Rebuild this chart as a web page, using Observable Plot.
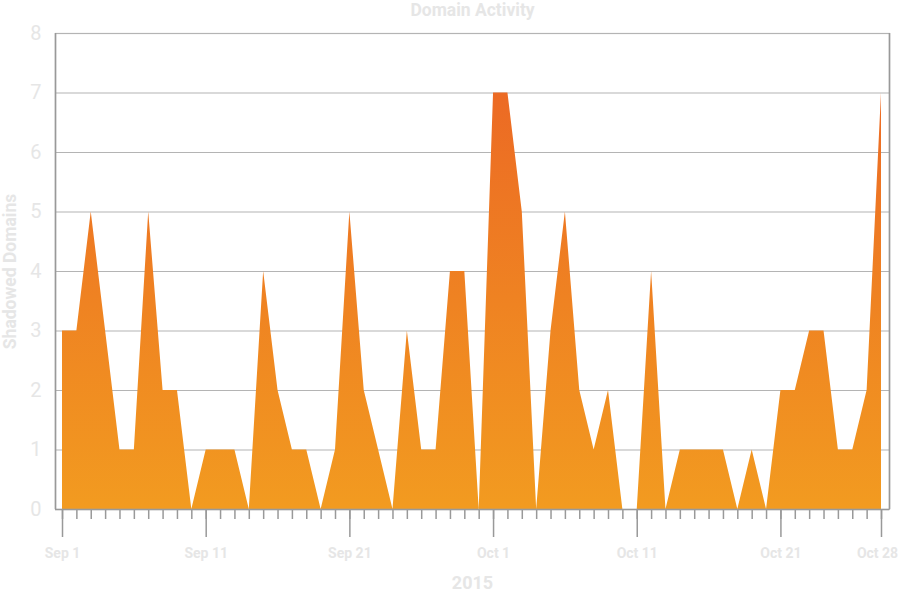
<!DOCTYPE html>
<html><head><meta charset="utf-8">
<script src="https://cdn.jsdelivr.net/npm/d3@7"></script>
<script src="https://cdn.jsdelivr.net/npm/@observablehq/plot@0.6"></script>
<style>
body{margin:0;background:#fff;font-family:Roboto,sans-serif;}
#chart svg{display:block;}
</style></head><body><div id="chart"></div>
<script>
// Daily counts of shadowed domains, Sep 1 – Oct 28, 2015
const firstDay = "2015-09-01";
const lastDay = "2015-10-28";
const counts = [
  3,3,5,3,1,1,5,2,2,0, 1,1,1,0,4,2,1,1,0,1, 5,2,1,0,3,1,1,4,4,0,
  7,7,5,0,3,5,2,1,2,0, 0,4,0,1,1,1,1,0,1,0, 2,2,3,3,1,1,2,7
];
const majorTickDates = ["2015-09-01","2015-09-11","2015-09-21","2015-10-01","2015-10-11","2015-10-21","2015-10-28"];
const majorTickLabels = ["Sep 1","Sep 11","Sep 21","Oct 1","Oct 11","Oct 21","Oct 28"];
const yTicks = [0,1,2,3,4,5,6,7,8];
const gridTicks = [1,2,3,4,5,6,7];
const titleText = "Domain Activity";
const yLabel = "Shadowed Domains";
const xLabel = "2015";

const days = d3.utcDay.range(new Date(firstDay), d3.utcDay.offset(new Date(lastDay), 1));
const data = days.map((d, i) => ({date: d, value: counts[i]}));
const majors = majorTickDates.map(s => new Date(s));
const labelOf = new Map(majors.map((d, i) => [+d, majorTickLabels[i]]));
const xDomain = [new Date("2015-08-31T12:18:00Z"), new Date("2015-10-28T13:22:00Z")];

const textFill = "#e6e6e6";

const chart = Plot.plot({
  width: 900,
  height: 592,
  marginLeft: 55,
  marginRight: 11,
  marginTop: 33,
  marginBottom: 83,
  style: {fontFamily: "Roboto, sans-serif", background: "#fff"},
  x: {type: "utc", domain: xDomain},
  y: {domain: [0, 8]},
  marks: [
    Plot.gridY(gridTicks, {stroke: "#b4b4b4", strokeOpacity: 1, strokeWidth: 1.2}),
    Plot.areaY(data, {x: "date", y: "value", fill: "url(#areaGrad)", curve: "linear"}),
    Plot.frame({stroke: "#b4b4b4", strokeWidth: 1.2}),
    Plot.ruleY([0], {stroke: "#999", strokeWidth: 1.6}),
    Plot.ruleX([xDomain[0]], {stroke: "#999", strokeWidth: 1.6}),
    Plot.ruleX([xDomain[1]], {stroke: "#999", strokeWidth: 1.6}),
    Plot.axisX({ticks: days, tickSize: 10, text: null, stroke: "#999", strokeWidth: 1.5, label: null}),
    Plot.axisX({ticks: majors, tickSize: 28, text: null, stroke: "#999", strokeWidth: 1.5, label: null}),
    Plot.axisX({ticks: majors.slice(0, -1), tickSize: 28, tickPadding: 11, tickFormat: d => labelOf.get(+d),
      stroke: "none", fontSize: 14, fontWeight: "bold", fill: textFill, label: null}),
    Plot.text(majors.slice(-1), {x: d => d, text: d => labelOf.get(+d), frameAnchor: "bottom",
      dy: 44, dx: -4, lineAnchor: "middle", fontSize: 14, fontWeight: "bold", fill: textFill}),
    Plot.axisY({ticks: yTicks, tickSize: 0, tickPadding: 14, fontSize: 20, fill: textFill, label: null}),
    Plot.text([yLabel], {text: d => d, frameAnchor: "left", rotate: -90, dx: -45,
      textAnchor: "middle", lineAnchor: "middle",
      fontSize: 17.5, fontWeight: "bold", fill: textFill}),
    Plot.text([titleText], {text: d => d, frameAnchor: "top", dy: -23, lineAnchor: "middle",
      fontSize: 17.5, fontWeight: "bold", fill: textFill}),
    Plot.text([xLabel], {text: d => d, frameAnchor: "bottom", dy: 74, lineAnchor: "middle",
      fontSize: 18, fontWeight: "bold", fill: textFill})
  ]
});

const ns = "http://www.w3.org/2000/svg";
const defs = document.createElementNS(ns, "defs");
defs.innerHTML = `<linearGradient id="areaGrad" x1="0" y1="0" x2="0" y2="1">
  <stop offset="0" stop-color="#ec6a24"/><stop offset="1" stop-color="#f29b20"/></linearGradient>`;
chart.insertBefore(defs, chart.firstChild);
document.getElementById("chart").appendChild(chart);
</script></body></html>
